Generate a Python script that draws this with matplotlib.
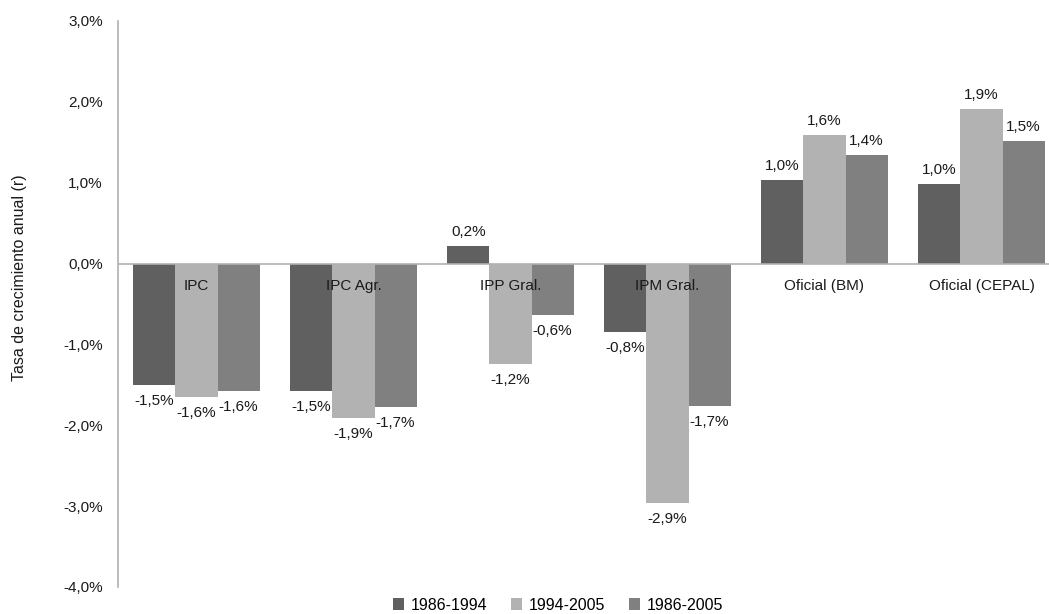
import matplotlib
matplotlib.use("Agg")
import matplotlib.pyplot as plt
from matplotlib.ticker import FuncFormatter
import numpy as np

plt.rcParams['font.family'] = ['Liberation Sans', 'DejaVu Sans']

categories = ["IPC", "IPC Agr.", "IPP Gral.", "IPM Gral.", "Oficial (BM)", "Oficial (CEPAL)"]
series_names = ["1986-1994", "1994-2005", "1986-2005"]
s1 = [-1.50, -1.57, 0.22, -0.85, 1.03, 0.98]
s2 = [-1.65, -1.91, -1.24, -2.96, 1.59, 1.91]
s3 = [-1.58, -1.77, -0.64, -1.76, 1.34, 1.52]
labels1 = ["-1,5%", "-1,5%", "0,2%", "-0,8%", "1,0%", "1,0%"]
labels2 = ["-1,6%", "-1,9%", "-1,2%", "-2,9%", "1,6%", "1,9%"]
labels3 = ["-1,6%", "-1,7%", "-0,6%", "-1,7%", "1,4%", "1,5%"]
yticks = [-4, -3, -2, -1, 0, 1, 2, 3]

colors = ["#606060", "#b2b2b2", "#808080"]
txt = "#1a1a1a"
FS = 11
W, H = 1049, 614
fig = plt.figure(figsize=(W / 100, H / 100), dpi=100)
ax = fig.add_axes([118 / W, (H - 587) / H, (1060 - 118) / W, (587 - 21) / H])

x = np.arange(len(categories))
bw = 0.268
all_series = [s1, s2, s3]
all_labels = [labels1, labels2, labels3]
for k, (vals, labs) in enumerate(zip(all_series, all_labels)):
    xs = x + (k - 1) * bw
    ax.bar(xs, vals, width=bw, color=colors[k], label=series_names[k], zorder=2)
    for xi, v, t in zip(xs, vals, labs):
        off = 14 if v >= 0 else -16
        ax.annotate(t, xy=(xi, v), xytext=(0, off * 0.72), textcoords="offset points",
                    ha="center", va="center", fontsize=FS, color=txt, zorder=4)

ax.axhline(0, color="#b0b0b0", lw=1.2, zorder=3)
for i, c in enumerate(categories):
    ax.annotate(c, xy=(i, 0), xytext=(0, -22 * 0.72), textcoords="offset points",
                ha="center", va="center", fontsize=FS, color=txt, zorder=5)

ax.set_xlim(-0.5, len(categories) - 0.5)
ax.set_ylim(-4, 3)
ax.set_yticks(yticks)
ax.yaxis.set_major_formatter(FuncFormatter(lambda v, p: f"{v:.1f}%".replace(".", ",")))
ax.tick_params(axis="y", length=0, pad=11, labelsize=FS, labelcolor=txt)
ax.set_xticks([])
for s in ["top", "right", "bottom"]:
    ax.spines[s].set_visible(False)
ax.spines["left"].set_color("#b0b0b0")
ax.spines["left"].set_linewidth(1.2)

fig.text(20 / W, 1 - 278 / H, "Tasa de crecimiento anual (r)", rotation=90,
         ha="center", va="center", fontsize=11.5, color=txt)

leg = fig.legend(loc="center", bbox_to_anchor=(558 / W, 1 - 605 / H), ncol=3, frameon=False,
                 fontsize=11.5, handlelength=0.7, handleheight=0.7, handletextpad=0.4,
                 columnspacing=1.5, borderpad=0)

fig.savefig("out.png", dpi=100)
